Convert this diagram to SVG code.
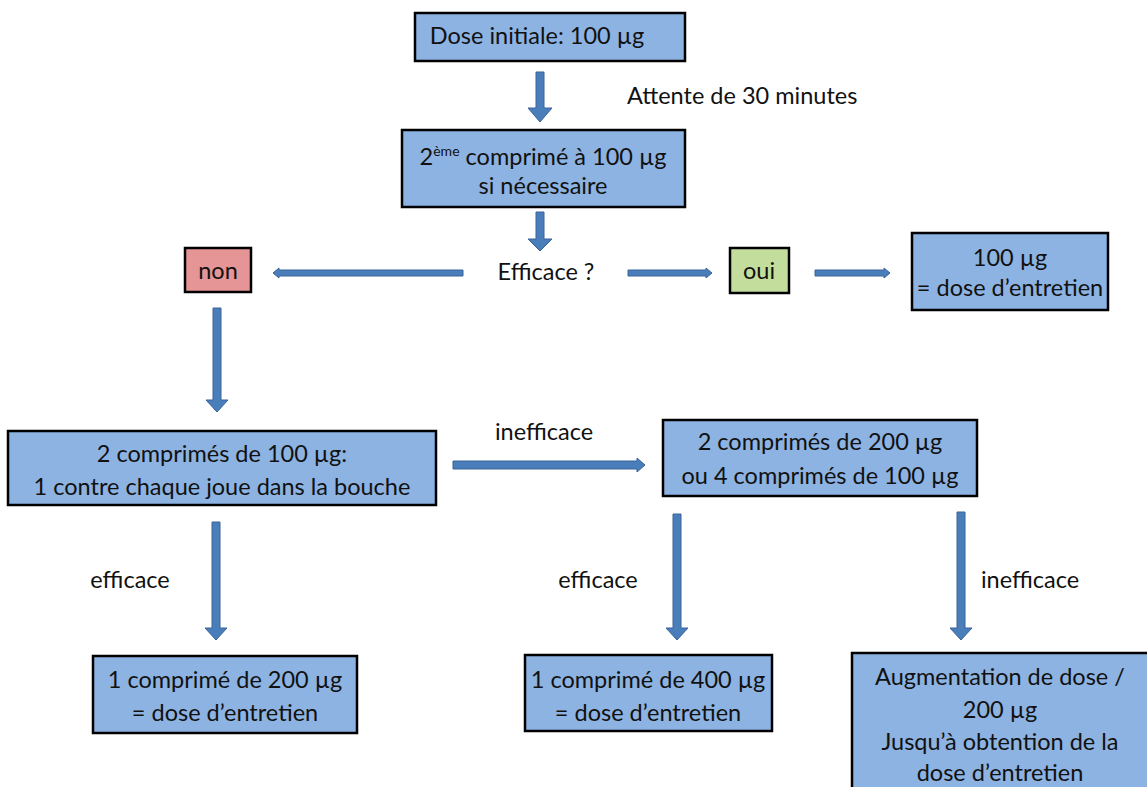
<svg xmlns="http://www.w3.org/2000/svg" width="1147" height="787" viewBox="0 0 1147 787">
<style>
  .box{fill:#8db3e2;stroke:#000;stroke-width:2.5}
  .non{fill:#e59595;stroke:#000;stroke-width:2.5}
  .oui{fill:#c3de9c;stroke:#000;stroke-width:2.5}
  .arr{fill:#4a7ebb;stroke:#3a629a;stroke-width:1}
  text{font-family:Lato,"Open Sans","Liberation Sans",sans-serif;font-size:23.5px;fill:#111;text-anchor:middle}
  .lbl{text-anchor:start}
</style>
<rect width="1147" height="787" fill="#fff"/>
<g id="connectors">
  <path class="arr" d="M536,72 H544 V108 H552 L540,122 L528,108 H536 Z"/>
  <path class="arr" d="M536,212 H544 V239 H552 L540,251 L528,239 H536 Z"/>
  <path class="arr" d="M463,270 V276 H279 V278 L273,273 L279,268 V270 Z"/>
  <path class="arr" d="M628,270 V276 H706 V278 L712,273 L706,268 V270 Z"/>
  <path class="arr" d="M815,270 V276 H884 V278 L890,273 L884,268 V270 Z"/>
  <path class="arr" d="M213,308 H221 V400 H228 L217,412 L206,400 H213 Z"/>
  <path class="arr" d="M453,461 V469 H637 V472 L645,465 L637,458 V461 Z"/>
  <path class="arr" d="M212,522 H220 V628 H227 L216,640 L205,628 H212 Z"/>
  <path class="arr" d="M673,514 H681 V628 H688 L677,640 L666,628 H673 Z"/>
  <path class="arr" d="M957,512 H965 V628 H972 L961,640 L950,628 H957 Z"/>
</g>
<g id="n1"><rect class="box" x="415" y="13" width="270" height="48"/><text x="537" y="44">Dose initiale: 100 µg</text></g>
<g id="wait"><text class="lbl" x="627" y="104">Attente de 30 minutes</text></g>
<g id="n2"><rect class="box" x="402" y="130" width="283" height="77"/>
  <text x="543" y="165">2<tspan font-size="14" dy="-9">ème</tspan><tspan dy="9"> comprimé à 100 µg</tspan></text>
  <text x="543" y="194">si nécessaire</text></g>
<g id="q"><text x="546" y="280">Efficace ?</text></g>
<g id="non"><rect class="non" x="185" y="248" width="66" height="44"/><text x="218" y="279">non</text></g>
<g id="oui"><rect class="oui" x="730" y="248" width="59" height="45"/><text x="759" y="279">oui</text></g>
<g id="n3"><rect class="box" x="912" y="233" width="196" height="77"/>
  <text x="1010" y="266">100 µg</text><text x="1010" y="296">= dose d’entretien</text></g>
<g id="n4"><rect class="box" x="8" y="431" width="428" height="74"/>
  <text x="222" y="462">2 comprimés de 100 µg:</text><text x="222" y="495">1 contre chaque joue dans la bouche</text></g>
<g id="l1"><text x="544" y="440">inefficace</text></g>
<g id="n5"><rect class="box" x="663" y="420" width="314" height="76"/>
  <text x="820" y="450">2 comprimés de 200 µg</text><text x="820" y="484">ou 4 comprimés de 100 µg</text></g>
<g id="l2"><text x="130" y="588">efficace</text></g>
<g id="l3"><text x="598" y="588">efficace</text></g>
<g id="l4"><text x="1030" y="588">inefficace</text></g>
<g id="n6"><rect class="box" x="93" y="656" width="264" height="77"/>
  <text x="225" y="688">1 comprimé de 200 µg</text><text x="225" y="721">= dose d’entretien</text></g>
<g id="n7"><rect class="box" x="525" y="655" width="247" height="76"/>
  <text x="648" y="688">1 comprimé de 400 µg</text><text x="648" y="721">= dose d’entretien</text></g>
<g id="n8"><rect class="box" x="852" y="653" width="300" height="140"/>
  <text x="1000" y="685">Augmentation de dose /</text><text x="1000" y="718">200 µg</text>
  <text x="1000" y="750">Jusqu’à obtention de la</text><text x="1000" y="781">dose d’entretien</text></g>
</svg>
